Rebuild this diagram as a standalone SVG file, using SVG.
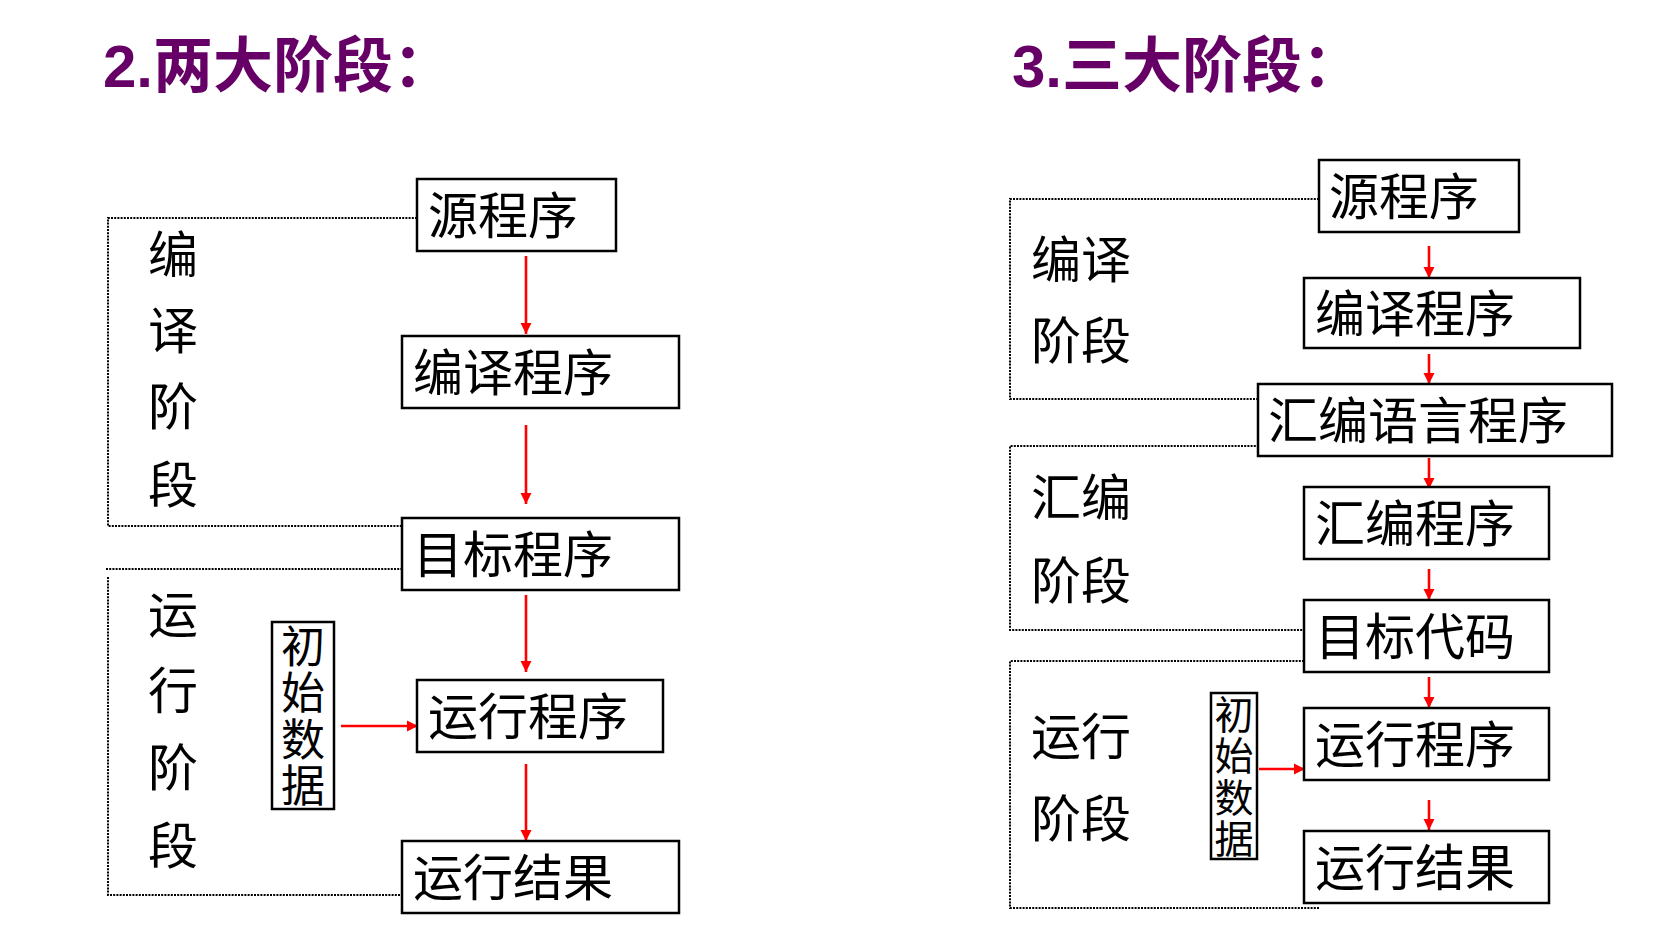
<svg xmlns="http://www.w3.org/2000/svg" width="1661" height="928" viewBox="0 0 1661 928">
<style>
.title{font-family:"Liberation Sans","Noto Sans CJK SC",sans-serif;font-weight:bold;font-size:60px;fill:#660066}
.t{font-family:"Noto Sans CJK SC",sans-serif;font-size:50px;fill:#000}
.tv{font-family:"Noto Sans CJK SC",sans-serif;fill:#000;writing-mode:vertical-rl;letter-spacing:2.5px}
.box{fill:#fff;stroke:#000;stroke-width:2.5}
.dot{fill:none;stroke:#000;stroke-width:2;stroke-dasharray:2 1.2}
.arr{stroke:#ff0000;stroke-width:2.6;fill:none;marker-end:url(#ah)}
</style>
<defs>
<marker id="ah" markerUnits="userSpaceOnUse" markerWidth="12" markerHeight="12" viewBox="0 0 12 12" refX="11" refY="6" orient="auto">
<path d="M0,0.5 L11,6 L0,11.5 Z" fill="#ff0000"/>
</marker>
</defs>
<rect width="1661" height="928" fill="#fff"/>
<text class="title" x="103" y="87">2.两大阶段：</text>
<text class="title" x="1012" y="87">3.三大阶段：</text>

<g id="connectors">
<polyline class="dot" points="417,218 108,218 108,526 418,526"/>
<line class="dot" x1="106" y1="569" x2="411" y2="569"/>
<polyline class="dot" points="108,577 108,895 415,895"/>
<polyline class="dot" points="1319,199 1010,199 1010,399 1259,399"/>
<polyline class="dot" points="1259,446 1010,446 1010,630 1320,630"/>
<polyline class="dot" points="1320,661 1010,661 1010,908 1320,908"/>
<line class="arr" x1="526" y1="256" x2="526" y2="334"/>
<line class="arr" x1="526" y1="425" x2="526" y2="504"/>
<line class="arr" x1="526" y1="595" x2="526" y2="672"/>
<line class="arr" x1="526" y1="764" x2="526" y2="841"/>
<line class="arr" x1="341" y1="726" x2="418" y2="726"/>
<line class="arr" x1="1429" y1="246" x2="1429" y2="278"/>
<line class="arr" x1="1429" y1="354" x2="1429" y2="384"/>
<line class="arr" x1="1429" y1="458" x2="1429" y2="489"/>
<line class="arr" x1="1429" y1="569" x2="1429" y2="600"/>
<line class="arr" x1="1429" y1="677" x2="1429" y2="708"/>
<line class="arr" x1="1429" y1="800" x2="1429" y2="830"/>
<line class="arr" x1="1259" y1="769" x2="1305" y2="769"/>
</g>

<g id="L-stage-compile"><text class="t"><tspan x="148" y="273">编</tspan><tspan x="148" y="349">译</tspan><tspan x="148" y="425">阶</tspan><tspan x="148" y="503">段</tspan></text></g>
<g id="L-stage-run"><text class="t"><tspan x="148" y="633">运</tspan><tspan x="148" y="709">行</tspan><tspan x="148" y="786">阶</tspan><tspan x="148" y="864">段</tspan></text></g>

<g id="L-src"><rect class="box" x="417" y="179" width="199" height="72"/><text class="t" x="428" y="234">源程序</text></g>
<g id="L-compiler"><rect class="box" x="402" y="336" width="277" height="72"/><text class="t" x="413" y="391">编译程序</text></g>
<g id="L-target"><rect class="box" x="402" y="518" width="277" height="72"/><text class="t" x="413" y="573">目标程序</text></g>
<g id="L-runprog"><rect class="box" x="417" y="680" width="246" height="72"/><text class="t" x="428" y="735">运行程序</text></g>
<g id="L-result"><rect class="box" x="402" y="841" width="277" height="72"/><text class="t" x="413" y="896">运行结果</text></g>
<g id="L-data"><rect class="box" x="272" y="622" width="62" height="187"/>
<text class="tv" style="font-size:44px" x="303" y="624">初始数据</text></g>

<g id="R-stage-compile"><text class="t" x="1031" y="278">编译</text><text class="t" x="1031" y="359">阶段</text></g>
<g id="R-stage-asm"><text class="t" x="1031" y="516">汇编</text><text class="t" x="1031" y="599">阶段</text></g>
<g id="R-stage-run"><text class="t" x="1031" y="755">运行</text><text class="t" x="1031" y="837">阶段</text></g>

<g id="R-src"><rect class="box" x="1319" y="160" width="200" height="72"/><text class="t" x="1329" y="215">源程序</text></g>
<g id="R-compiler"><rect class="box" x="1304" y="278" width="276" height="70"/><text class="t" x="1315" y="332">编译程序</text></g>
<g id="R-asmlang"><rect class="box" x="1258" y="384" width="354" height="72"/><text class="t" x="1268" y="439">汇编语言程序</text></g>
<g id="R-assembler"><rect class="box" x="1304" y="487" width="245" height="72"/><text class="t" x="1315" y="542">汇编程序</text></g>
<g id="R-target"><rect class="box" x="1304" y="600" width="245" height="72"/><text class="t" x="1315" y="655">目标代码</text></g>
<g id="R-runprog"><rect class="box" x="1304" y="708" width="245" height="72"/><text class="t" x="1315" y="763">运行程序</text></g>
<g id="R-result"><rect class="box" x="1304" y="831" width="245" height="72"/><text class="t" x="1315" y="886">运行结果</text></g>
<g id="R-data"><rect class="box" x="1211" y="693" width="46" height="166"/>
<text class="tv" style="font-size:39px" x="1234" y="694.5">初始数据</text></g>
</svg>
